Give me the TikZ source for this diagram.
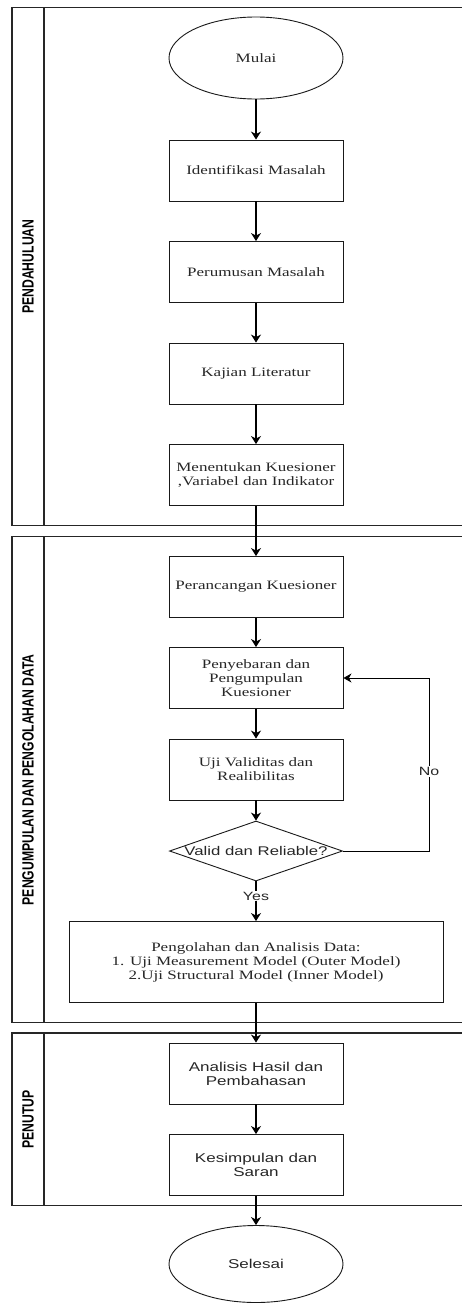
\documentclass[tikz,border=0pt]{standalone}
\usepackage{fontspec}
\usepackage{graphicx}
\usetikzlibrary{shapes.geometric,arrows.meta}
% widened faces for the step texts, plain face for the lane titles
\newfontfamily\boxserif[FakeStretch=1.33]{Liberation Serif}
\newfontfamily\boxsans[FakeStretch=1.33]{Liberation Sans}
\newfontfamily\lanesans{Liberation Sans}

\begin{document}
\begin{tikzpicture}[x=1pt,y=-1pt,
  flow/.style={draw=black, line width=1.2pt, -{Stealth[length=8pt,width=10pt,inset=2.5pt]}},
  backflow/.style={draw=black, line width=0.8pt, -{Stealth[length=8pt,width=9pt,inset=2.5pt]}},
  frame/.style={draw=black!85, line width=1.1pt},
  stepbox/.style={draw=black!90, line width=0.9pt, minimum width=174pt, minimum height=61pt,
    inner sep=0pt, align=center, text=black!85, font=\boxserif\fontsize{12.8}{14}\selectfont},
  sansbox/.style={stepbox, font=\boxsans\fontsize{12.8}{14}\selectfont},
  terminal/.style={draw=black!90, line width=0.9pt, ellipse, minimum width=174pt, minimum height=82pt,
    inner sep=0pt, text=black!85},
  decision/.style={draw=black!90, line width=0.9pt, diamond, minimum width=173pt, minimum height=60pt,
    inner sep=0pt, text=black!85},
  lanelabel/.style={rotate=90, inner sep=0pt, text=black, font=\lanesans\bfseries\fontsize{12.2}{14}\selectfont},
  edgelabel/.style={fill=white, inner sep=1pt, text=black!85, font=\boxsans\fontsize{12}{14}\selectfont}
]
\useasboundingbox (0,0) rectangle (462,1304);

% ---- swimlane frames (open to the right) ----
\draw[frame] (462,7.5) -- (12,7.5) -- (12,525.7) -- (462,525.7);
\draw[frame] (44,7.5) -- (44,525.7);
\draw[frame] (462,536.7) -- (12,536.7) -- (12,1022.7) -- (462,1022.7);
\draw[frame] (44,536.7) -- (44,1022.7);
\draw[frame] (462,1033) -- (12,1033) -- (12,1205.7) -- (462,1205.7);
\draw[frame] (44,1033) -- (44,1205.7);

\node[lanelabel] (lane1) at (28,266.6) {\scalebox{1}[1.33]{PENDAHULUAN}};
\node[lanelabel] (lane2) at (28,779.7) {\scalebox{1}[1.33]{PENGUMPULAN DAN PENGOLAHAN DATA}};
\node[lanelabel] (lane3) at (28,1119.4) {\scalebox{1}[1.33]{PENUTUP}};

% ---- steps ----
\node[terminal, font=\boxserif\fontsize{12.8}{14}\selectfont] (mulai) at (256,58) {Mulai};
\node[stepbox] (ident) at (256,170.5) {Identifikasi Masalah};
\node[stepbox] (rumus) at (256,272) {Perumusan Masalah};
\node[stepbox] (kajian) at (256,373.5) {Kajian Literatur};
\node[stepbox] (tentu) at (256,475) {Menentukan Kuesioner\\,Variabel dan Indikator};
\node[stepbox] (rancang) at (256,587) {Perancangan Kuesioner};
\node[stepbox] (sebar) at (256,678) {Penyebaran dan\\Pengumpulan\\Kuesioner};
\node[stepbox] (uji) at (256,769.5) {Uji Validitas dan\\Realibilitas};
\node[decision, label={[text=black!85, font=\boxsans\fontsize{12.6}{14}\selectfont]center:Valid dan Reliable?}] (dec) at (256,851) {};
\node[stepbox, minimum width=374pt, minimum height=81pt] (olah) at (256,962)
  {Pengolahan dan Analisis Data:\\1. Uji Measurement Model (Outer Model)\\2.Uji Structural Model (Inner Model)};
\node[sansbox] (hasil) at (256,1073.5) {Analisis Hasil dan\\Pembahasan};
\node[sansbox] (simpul) at (256,1165) {Kesimpulan dan\\Saran};
\node[terminal, minimum height=77pt, font=\boxsans\fontsize{12.8}{14}\selectfont] (selesai) at (256,1264) {Selesai};

% ---- connectors ----
\draw[flow] (mulai) -- (ident);
\draw[flow] (ident) -- (rumus);
\draw[flow] (rumus) -- (kajian);
\draw[flow] (kajian) -- (tentu);
\draw[flow] (tentu) -- (rancang);
\draw[flow] (rancang) -- (sebar);
\draw[flow] (sebar) -- (uji);
\draw[flow] (uji) -- (dec);
\draw[flow] (dec) -- node[edgelabel, pos=0.37] (yes) {Yes} (olah);
\draw[backflow] (dec.east) -- ++(86,0) |- node[edgelabel, pos=0.23] (no) {No} (sebar.east);
\draw[flow] (olah) -- (hasil);
\draw[flow] (hasil) -- (simpul);
\draw[flow] (simpul) -- (selesai);
\end{tikzpicture}
\end{document}
